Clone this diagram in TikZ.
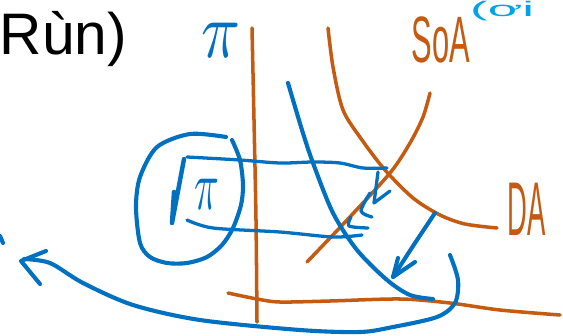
\documentclass[tikz,border=0pt]{standalone}
\usepackage{fontspec}
\setmainfont{Liberation Sans}
\definecolor{rust}{HTML}{C55A11}
\definecolor{pen}{HTML}{0070C0}
\definecolor{sky}{HTML}{00A2E8}
\definecolor{ink}{HTML}{000000}

\begin{document}
\begin{tikzpicture}[x=0.03cm, y=-0.03cm, line cap=round, line join=round,
  rustline/.style={rust, line width=3pt},
  penline/.style={pen, line width=3.5pt},
  hand/.style={inner sep=0pt}]
  \useasboundingbox (0,0) rectangle (563,335);

  % Axes of the sketch, both in orange.
  \draw[rustline] plot[smooth] coordinates {(252,28) (254,120) (256,220) (257,322)};
  \draw[rustline] plot[smooth] coordinates {(228,293) (257,299) (280,302) (330,301) (400,299) (450,303) (500,310) (560,315)};

  % The two orange curves and their labels.
  \draw[rustline] plot[smooth] coordinates {(328,28) (333,67) (343,110) (362,140) (385,170) (413,198) (440,215) (465,224) (497,228)};
  \draw[rustline] plot[smooth] coordinates {(430,93) (423,117) (410,143) (390,173) (347,220) (307,262)};
  \node[hand, text=rust, anchor=base, font=\fontsize{56}{56}\selectfont] (sa) at (441,62) {\scalebox{.47}[1]{SoA}};
  \node[hand, text=rust, anchor=base, font=\fontsize{65}{65}\selectfont] (da) at (527,235) {\scalebox{.36}[1]{DA}};

  % Blue curve shifted left, with the two price levels.
  \draw[penline] plot[smooth] coordinates {(288,83) (302,130) (313,163) (333,213) (357,250) (387,280) (410,295) (433,299)};
  \draw[penline, line width=2.8pt] plot[smooth] coordinates {(187,157) (240,160) (280,163) (313,162) (340,163) (363,168) (387,168)};
  \draw[penline, line width=2.8pt] plot[smooth] coordinates {(187,220) (213,228) (280,232) (333,237) (362,235)};

  % Loop round the falling inflation.
  \draw[penline] plot[smooth] coordinates {(226,137) (190,134) (157,147) (140,177) (136,207) (140,243) (150,257) (167,263) (187,263) (207,257) (222,245) (233,228) (241,205) (243,185) (240,160) (232,140)};
  \draw[penline, line width=3.8pt] (174,192) -- (172,223) -- (184,159);
  \node[hand, text=pen] (pidown) at (207,194) {\scalebox{3.5}[6]{$\pi$}};
  \node[hand, text=pen] (pi) at (221,40) {\scalebox{5.5}[6.8]{$\pi$}};

  % Little marks sliding down the orange curve.
  \draw[penline, line width=2.8pt] (378,172) -- (374,203) -- (390,191);
  \draw[penline, line width=2.8pt] plot[smooth] coordinates {(370,193) (361,211) (372,217)};
  \draw[penline, line width=2.8pt] plot[smooth] coordinates {(351,217) (349,226) (368,228)};

  % Shift arrow and the long sweep to the left.
  \draw[penline] plot[smooth] coordinates {(435,213) (415,243) (393,277)};
  \draw[penline] (398,258) -- (393,277) -- (415,262);
  \draw[penline] plot[smooth] coordinates {(450,255) (458,280) (455,303) (437,317) (393,327) (360,332) (300,330) (200,320) (133,305) (83,283) (50,263) (24,259)};
  \draw[penline] (46,251) -- (21,261) -- (40,284);
  \draw[penline] (0,236) -- (3,243);

  % Handwriting at the edges.
  \node[hand, text=ink, anchor=base east, font=\fontsize{50}{50}\selectfont] (note) at (127,54) {Rùn)};
  \node[hand, text=sky, anchor=base west, font=\fontsize{18}{18}\selectfont] (top) at (470,16) {\scalebox{2.5}[1]{(ơi}};
\end{tikzpicture}
\end{document}
